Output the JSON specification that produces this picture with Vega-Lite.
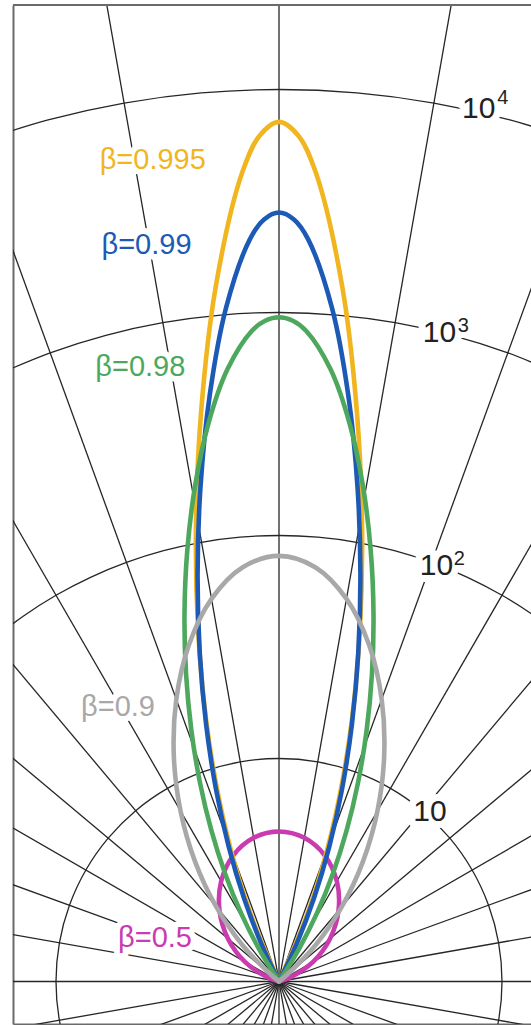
{
  "$schema": "https://vega.github.io/schema/vega-lite/v6.json",
  "width": 518,
  "height": 1019,
  "autosize": {"type": "none"},
  "padding": {"left": 13, "top": 5, "right": 0, "bottom": 1},
  "background": "white",
  "config": {"view": {"stroke": null}},
  "datasets": {
    "spokes": [
      {"a": 0, "sx": 0, "sy": 0, "ex": 0, "ey": 6}, {"a": 10, "sx": 0, "sy": 0, "ex": 1.0419, "ey": 5.9089}, {"a": 20, "sx": 0, "sy": 0, "ex": 2.0521, "ey": 5.6381},
      {"a": 30, "sx": 0, "sy": 0, "ex": 3, "ey": 5.1962}, {"a": 40, "sx": 0, "sy": 0, "ex": 3.8567, "ey": 4.5963}, {"a": 50, "sx": 0, "sy": 0, "ex": 4.5963, "ey": 3.8567},
      {"a": 60, "sx": 0, "sy": 0, "ex": 5.1962, "ey": 3}, {"a": 70, "sx": 0, "sy": 0, "ex": 5.6381, "ey": 2.0521}, {"a": 80, "sx": 0, "sy": 0, "ex": 5.9089, "ey": 1.0419},
      {"a": 90, "sx": 0, "sy": 0, "ex": 6, "ey": 0}, {"a": 100, "sx": 0, "sy": 0, "ex": 5.9089, "ey": -1.0419}, {"a": 110, "sx": 0, "sy": 0, "ex": 5.6381, "ey": -2.0521},
      {"a": 120, "sx": 0, "sy": 0, "ex": 5.1962, "ey": -3}, {"a": 130, "sx": 0, "sy": 0, "ex": 4.5963, "ey": -3.8567}, {"a": 140, "sx": 0, "sy": 0, "ex": 3.8567, "ey": -4.5963},
      {"a": 150, "sx": 0, "sy": 0, "ex": 3, "ey": -5.1962}, {"a": 160, "sx": 0, "sy": 0, "ex": 2.0521, "ey": -5.6381}, {"a": 170, "sx": 0, "sy": 0, "ex": 1.0419, "ey": -5.9089},
      {"a": 180, "sx": 0, "sy": 0, "ex": 0, "ey": -6}, {"a": 190, "sx": 0, "sy": 0, "ex": -1.0419, "ey": -5.9089}, {"a": 200, "sx": 0, "sy": 0, "ex": -2.0521, "ey": -5.6381},
      {"a": 210, "sx": 0, "sy": 0, "ex": -3, "ey": -5.1962}, {"a": 220, "sx": 0, "sy": 0, "ex": -3.8567, "ey": -4.5963}, {"a": 230, "sx": 0, "sy": 0, "ex": -4.5963, "ey": -3.8567},
      {"a": 240, "sx": 0, "sy": 0, "ex": -5.1962, "ey": -3}, {"a": 250, "sx": 0, "sy": 0, "ex": -5.6381, "ey": -2.0521}, {"a": 260, "sx": 0, "sy": 0, "ex": -5.9089, "ey": -1.0419},
      {"a": 270, "sx": 0, "sy": 0, "ex": -6, "ey": 0}, {"a": 280, "sx": 0, "sy": 0, "ex": -5.9089, "ey": 1.0419}, {"a": 290, "sx": 0, "sy": 0, "ex": -5.6381, "ey": 2.0521},
      {"a": 300, "sx": 0, "sy": 0, "ex": -5.1962, "ey": 3}, {"a": 310, "sx": 0, "sy": 0, "ex": -4.5963, "ey": 3.8567}, {"a": 320, "sx": 0, "sy": 0, "ex": -3.8567, "ey": 4.5963},
      {"a": 330, "sx": 0, "sy": 0, "ex": -3, "ey": 5.1962}, {"a": 340, "sx": 0, "sy": 0, "ex": -2.0521, "ey": 5.6381}, {"a": 350, "sx": 0, "sy": 0, "ex": -1.0419, "ey": 5.9089}
    ],
    "frame": [
      {"x1": -1.19283, "x2": 1.13004, "y": 4.37892}
    ],
    "circles": [
      {"c": 1, "i": 0, "x": 0, "y": -1}, {"c": 1, "i": 1, "x": -0.17365, "y": -0.98481}, {"c": 1, "i": 2, "x": -0.34202, "y": -0.93969},
      {"c": 1, "i": 3, "x": -0.5, "y": -0.86603}, {"c": 1, "i": 4, "x": -0.64279, "y": -0.76604}, {"c": 1, "i": 5, "x": -0.76604, "y": -0.64279},
      {"c": 1, "i": 6, "x": -0.86603, "y": -0.5}, {"c": 1, "i": 7, "x": -0.93969, "y": -0.34202}, {"c": 1, "i": 8, "x": -0.98481, "y": -0.17365},
      {"c": 1, "i": 9, "x": -1, "y": 0}, {"c": 1, "i": 10, "x": -0.98481, "y": 0.17365}, {"c": 1, "i": 11, "x": -0.93969, "y": 0.34202},
      {"c": 1, "i": 12, "x": -0.86603, "y": 0.5}, {"c": 1, "i": 13, "x": -0.76604, "y": 0.64279}, {"c": 1, "i": 14, "x": -0.64279, "y": 0.76604},
      {"c": 1, "i": 15, "x": -0.5, "y": 0.86603}, {"c": 1, "i": 16, "x": -0.34202, "y": 0.93969}, {"c": 1, "i": 17, "x": -0.17365, "y": 0.98481},
      {"c": 1, "i": 18, "x": 0, "y": 1}, {"c": 1, "i": 19, "x": 0.17365, "y": 0.98481}, {"c": 1, "i": 20, "x": 0.34202, "y": 0.93969},
      {"c": 1, "i": 21, "x": 0.5, "y": 0.86603}, {"c": 1, "i": 22, "x": 0.64279, "y": 0.76604}, {"c": 1, "i": 23, "x": 0.76604, "y": 0.64279},
      {"c": 1, "i": 24, "x": 0.86603, "y": 0.5}, {"c": 1, "i": 25, "x": 0.93969, "y": 0.34202}, {"c": 1, "i": 26, "x": 0.98481, "y": 0.17365},
      {"c": 1, "i": 27, "x": 1, "y": 0}, {"c": 1, "i": 28, "x": 0.98481, "y": -0.17365}, {"c": 1, "i": 29, "x": 0.93969, "y": -0.34202},
      {"c": 1, "i": 30, "x": 0.86603, "y": -0.5}, {"c": 1, "i": 31, "x": 0.76604, "y": -0.64279}, {"c": 1, "i": 32, "x": 0.64279, "y": -0.76604},
      {"c": 1, "i": 33, "x": 0.5, "y": -0.86603}, {"c": 1, "i": 34, "x": 0.34202, "y": -0.93969}, {"c": 1, "i": 35, "x": 0.17365, "y": -0.98481},
      {"c": 1, "i": 36, "x": 0, "y": -1},
      {"c": 2, "i": 0, "x": -1.28558, "y": 1.53208}, {"c": 2, "i": 1, "x": -1.14715, "y": 1.6383}, {"c": 2, "i": 2, "x": -1, "y": 1.73205},
      {"c": 2, "i": 3, "x": -0.84524, "y": 1.81262}, {"c": 2, "i": 4, "x": -0.68404, "y": 1.87939}, {"c": 2, "i": 5, "x": -0.51764, "y": 1.93185},
      {"c": 2, "i": 6, "x": -0.3473, "y": 1.96962}, {"c": 2, "i": 7, "x": -0.17431, "y": 1.99239}, {"c": 2, "i": 8, "x": 0, "y": 2},
      {"c": 2, "i": 9, "x": 0.17431, "y": 1.99239}, {"c": 2, "i": 10, "x": 0.3473, "y": 1.96962}, {"c": 2, "i": 11, "x": 0.51764, "y": 1.93185},
      {"c": 2, "i": 12, "x": 0.68404, "y": 1.87939}, {"c": 2, "i": 13, "x": 0.84524, "y": 1.81262}, {"c": 2, "i": 14, "x": 1, "y": 1.73205},
      {"c": 2, "i": 15, "x": 1.14715, "y": 1.6383}, {"c": 2, "i": 16, "x": 1.28558, "y": 1.53208},
      {"c": 3, "i": 0, "x": -1.26785, "y": 2.71892}, {"c": 3, "i": 1, "x": -1.02606, "y": 2.81908}, {"c": 3, "i": 2, "x": -0.77646, "y": 2.89778},
      {"c": 3, "i": 3, "x": -0.52094, "y": 2.95442}, {"c": 3, "i": 4, "x": -0.26147, "y": 2.98858}, {"c": 3, "i": 5, "x": 0, "y": 3},
      {"c": 3, "i": 6, "x": 0.26147, "y": 2.98858}, {"c": 3, "i": 7, "x": 0.52094, "y": 2.95442}, {"c": 3, "i": 8, "x": 0.77646, "y": 2.89778},
      {"c": 3, "i": 9, "x": 1.02606, "y": 2.81908}, {"c": 3, "i": 10, "x": 1.26785, "y": 2.71892},
      {"c": 4, "i": 0, "x": -1.36808, "y": 3.75877}, {"c": 4, "i": 1, "x": -1.03528, "y": 3.8637}, {"c": 4, "i": 2, "x": -0.69459, "y": 3.93923},
      {"c": 4, "i": 3, "x": -0.34862, "y": 3.98478}, {"c": 4, "i": 4, "x": 0, "y": 4}, {"c": 4, "i": 5, "x": 0.34862, "y": 3.98478},
      {"c": 4, "i": 6, "x": 0.69459, "y": 3.93923}, {"c": 4, "i": 7, "x": 1.03528, "y": 3.8637}, {"c": 4, "i": 8, "x": 1.36808, "y": 3.75877}
    ],
    "curves": [
      {"b": "0.5", "i": 0, "x": 0, "y": 0}, {"b": "0.5", "i": 1, "x": -0.0503, "y": 0.0183}, {"b": "0.5", "i": 2, "x": -0.1526, "y": 0.0881},
      {"b": "0.5", "i": 3, "x": -0.2288, "y": 0.192}, {"b": "0.5", "i": 4, "x": -0.2669, "y": 0.3181}, {"b": "0.5", "i": 5, "x": -0.2594, "y": 0.4493},
      {"b": "0.5", "i": 6, "x": -0.2056, "y": 0.5648}, {"b": "0.5", "i": 7, "x": -0.1136, "y": 0.6444}, {"b": "0.5", "i": 8, "x": 0, "y": 0.6727},
      {"b": "0.5", "i": 9, "x": 0.1136, "y": 0.6444}, {"b": "0.5", "i": 10, "x": 0.2056, "y": 0.5648}, {"b": "0.5", "i": 11, "x": 0.2594, "y": 0.4493},
      {"b": "0.5", "i": 12, "x": 0.2669, "y": 0.3181}, {"b": "0.5", "i": 13, "x": 0.2288, "y": 0.192}, {"b": "0.5", "i": 14, "x": 0.1526, "y": 0.0881},
      {"b": "0.5", "i": 15, "x": 0.0503, "y": 0.0183}, {"b": "0.5", "i": 16, "x": 0, "y": 0},

      {"b": "0.995", "i": 0, "x": 0, "y": 0}, {"b": "0.995", "i": 1, "x": -0.109, "y": 0.253}, {"b": "0.995", "i": 2, "x": -0.1967, "y": 0.5195},
      {"b": "0.995", "i": 3, "x": -0.2702, "y": 0.8239}, {"b": "0.995", "i": 4, "x": -0.3268, "y": 1.1725}, {"b": "0.995", "i": 5, "x": -0.3625, "y": 1.5724},
      {"b": "0.995", "i": 6, "x": -0.3725, "y": 2.0315}, {"b": "0.995", "i": 7, "x": -0.3494, "y": 2.5525}, {"b": "0.995", "i": 8, "x": -0.2836, "y": 3.1164},
      {"b": "0.995", "i": 9, "x": -0.1647, "y": 3.6284}, {"b": "0.995", "i": 10, "x": -0.0861, "y": 3.7942}, {"b": "0.995", "i": 11, "x": 0, "y": 3.8547},
      {"b": "0.995", "i": 12, "x": 0.0861, "y": 3.7942}, {"b": "0.995", "i": 13, "x": 0.1647, "y": 3.6284}, {"b": "0.995", "i": 14, "x": 0.2836, "y": 3.1164},
      {"b": "0.995", "i": 15, "x": 0.3494, "y": 2.5525}, {"b": "0.995", "i": 16, "x": 0.3725, "y": 2.0315}, {"b": "0.995", "i": 17, "x": 0.3625, "y": 1.5724},
      {"b": "0.995", "i": 18, "x": 0.3268, "y": 1.1725}, {"b": "0.995", "i": 19, "x": 0.2702, "y": 0.8239}, {"b": "0.995", "i": 20, "x": 0.1967, "y": 0.5195},
      {"b": "0.995", "i": 21, "x": 0.109, "y": 0.253}, {"b": "0.995", "i": 22, "x": 0, "y": 0},

      {"b": "0.99", "i": 0, "x": 0, "y": 0}, {"b": "0.99", "i": 1, "x": -0.0792, "y": 0.1691}, {"b": "0.99", "i": 2, "x": -0.1571, "y": 0.3742},
      {"b": "0.99", "i": 3, "x": -0.2255, "y": 0.6047}, {"b": "0.99", "i": 4, "x": -0.2827, "y": 0.863}, {"b": "0.99", "i": 5, "x": -0.3269, "y": 1.1521},
      {"b": "0.99", "i": 6, "x": -0.3554, "y": 1.474}, {"b": "0.99", "i": 7, "x": -0.3651, "y": 1.8301}, {"b": "0.99", "i": 8, "x": -0.352, "y": 2.2182},
      {"b": "0.99", "i": 9, "x": -0.3111, "y": 2.6259}, {"b": "0.99", "i": 10, "x": -0.2378, "y": 3.0198}, {"b": "0.99", "i": 11, "x": -0.1308, "y": 3.328},
      {"b": "0.99", "i": 12, "x": -0.0671, "y": 3.4171}, {"b": "0.99", "i": 13, "x": 0, "y": 3.4483}, {"b": "0.99", "i": 14, "x": 0.0671, "y": 3.4171},
      {"b": "0.99", "i": 15, "x": 0.1308, "y": 3.328}, {"b": "0.99", "i": 16, "x": 0.2378, "y": 3.0198}, {"b": "0.99", "i": 17, "x": 0.3111, "y": 2.6259},
      {"b": "0.99", "i": 18, "x": 0.352, "y": 2.2182}, {"b": "0.99", "i": 19, "x": 0.3651, "y": 1.8301}, {"b": "0.99", "i": 20, "x": 0.3554, "y": 1.474},
      {"b": "0.99", "i": 21, "x": 0.3269, "y": 1.1521}, {"b": "0.99", "i": 22, "x": 0.2827, "y": 0.863}, {"b": "0.99", "i": 23, "x": 0.2255, "y": 0.6047},
      {"b": "0.99", "i": 24, "x": 0.1571, "y": 0.3742}, {"b": "0.99", "i": 25, "x": 0.0792, "y": 0.1691}, {"b": "0.99", "i": 26, "x": 0, "y": 0},

      {"b": "0.98", "i": 0, "x": 0, "y": 0}, {"b": "0.98", "i": 1, "x": -0.0918, "y": 0.1501}, {"b": "0.98", "i": 2, "x": -0.1706, "y": 0.3078},
      {"b": "0.98", "i": 3, "x": -0.2415, "y": 0.4832}, {"b": "0.98", "i": 4, "x": -0.3033, "y": 0.6774}, {"b": "0.98", "i": 5, "x": -0.3542, "y": 0.8908},
      {"b": "0.98", "i": 6, "x": -0.3927, "y": 1.124}, {"b": "0.98", "i": 7, "x": -0.4167, "y": 1.3768}, {"b": "0.98", "i": 8, "x": -0.4238, "y": 1.6477},
      {"b": "0.98", "i": 9, "x": -0.4113, "y": 1.9325}, {"b": "0.98", "i": 10, "x": -0.3763, "y": 2.223}, {"b": "0.98", "i": 11, "x": -0.3163, "y": 2.5029},
      {"b": "0.98", "i": 12, "x": -0.2307, "y": 2.7461}, {"b": "0.98", "i": 13, "x": -0.1223, "y": 2.9168}, {"b": "0.98", "i": 14, "x": -0.0621, "y": 2.9629},
      {"b": "0.98", "i": 15, "x": 0, "y": 2.9786}, {"b": "0.98", "i": 16, "x": 0.0621, "y": 2.9629}, {"b": "0.98", "i": 17, "x": 0.1223, "y": 2.9168},
      {"b": "0.98", "i": 18, "x": 0.2307, "y": 2.7461}, {"b": "0.98", "i": 19, "x": 0.3163, "y": 2.5029}, {"b": "0.98", "i": 20, "x": 0.3763, "y": 2.223},
      {"b": "0.98", "i": 21, "x": 0.4113, "y": 1.9325}, {"b": "0.98", "i": 22, "x": 0.4238, "y": 1.6477}, {"b": "0.98", "i": 23, "x": 0.4167, "y": 1.3768},
      {"b": "0.98", "i": 24, "x": 0.3927, "y": 1.124}, {"b": "0.98", "i": 25, "x": 0.3542, "y": 0.8908}, {"b": "0.98", "i": 26, "x": 0.3033, "y": 0.6774},
      {"b": "0.98", "i": 27, "x": 0.2415, "y": 0.4832}, {"b": "0.98", "i": 28, "x": 0.1706, "y": 0.3078}, {"b": "0.98", "i": 29, "x": 0.0918, "y": 0.1501},
      {"b": "0.98", "i": 30, "x": 0, "y": 0},

      {"b": "0.9", "i": 0, "x": 0, "y": 0}, {"b": "0.9", "i": 1, "x": -0.0333, "y": 0.028}, {"b": "0.9", "i": 2, "x": -0.1662, "y": 0.1662},
      {"b": "0.9", "i": 3, "x": -0.2825, "y": 0.3367}, {"b": "0.9", "i": 4, "x": -0.3763, "y": 0.5375}, {"b": "0.9", "i": 5, "x": -0.4415, "y": 0.7647},
      {"b": "0.9", "i": 6, "x": -0.4716, "y": 1.0113}, {"b": "0.9", "i": 7, "x": -0.4605, "y": 1.2652}, {"b": "0.9", "i": 8, "x": -0.4042, "y": 1.5086},
      {"b": "0.9", "i": 9, "x": -0.3026, "y": 1.7159}, {"b": "0.9", "i": 10, "x": -0.1625, "y": 1.8577}, {"b": "0.9", "i": 11, "x": 0, "y": 1.9086},
      {"b": "0.9", "i": 12, "x": 0.1625, "y": 1.8577}, {"b": "0.9", "i": 13, "x": 0.3026, "y": 1.7159}, {"b": "0.9", "i": 14, "x": 0.4042, "y": 1.5086},
      {"b": "0.9", "i": 15, "x": 0.4605, "y": 1.2652}, {"b": "0.9", "i": 16, "x": 0.4716, "y": 1.0113}, {"b": "0.9", "i": 17, "x": 0.4415, "y": 0.7647},
      {"b": "0.9", "i": 18, "x": 0.3763, "y": 0.5375}, {"b": "0.9", "i": 19, "x": 0.2825, "y": 0.3367}, {"b": "0.9", "i": 20, "x": 0.1662, "y": 0.1662},
      {"b": "0.9", "i": 21, "x": 0.0333, "y": 0.028}, {"b": "0.9", "i": 22, "x": 0, "y": 0}
    ],
    "betaLabels": [
      {"t": "β=0.995", "b": "0.995", "x": -0.566, "y": 3.642},
      {"t": "β=0.99", "b": "0.99", "x": -0.594, "y": 3.262},
      {"t": "β=0.98", "b": "0.98", "x": -0.622, "y": 2.715},
      {"t": "β=0.9", "b": "0.9", "x": -0.722, "y": 1.191},
      {"t": "β=0.5", "b": "0.5", "x": -0.556, "y": 0.156}
    ],
    "tickLabels": [
      {"t": "10", "x": 0.896, "y": 3.871},
      {"t": "10", "x": 0.72, "y": 2.866},
      {"t": "10", "x": 0.706, "y": 1.823},
      {"t": "10", "x": 0.677, "y": 0.721}
    ],
    "tickExps": [
      {"t": "4", "x": 1.004, "y": 3.935},
      {"t": "3", "x": 0.827, "y": 2.914},
      {"t": "2", "x": 0.809, "y": 1.868}
    ]
  },
  "layer": [
    {
      "data": {"name": "spokes"},
      "mark": {"type": "rule", "clip": true, "color": "#262626", "strokeWidth": 1.3},
      "encoding": {
        "x": {"field": "sx", "type": "quantitative", "scale": {"domain": [-1.19283, 1.13004], "nice": false, "zero": false},
              "axis": {"orient": "bottom", "domain": true, "domainColor": "#6b6b6b", "domainWidth": 2, "ticks": false, "labels": false, "grid": false, "title": null}},
        "y": {"field": "sy", "type": "quantitative", "scale": {"domain": [-0.19058, 4.37892], "nice": false, "zero": false},
              "axis": {"orient": "left", "domain": true, "domainColor": "#6b6b6b", "domainWidth": 2, "ticks": false, "labels": false, "grid": false, "title": null}},
        "x2": {"field": "ex"},
        "y2": {"field": "ey"}
      }
    },
    {
      "data": {"name": "frame"},
      "mark": {"type": "rule", "clip": false, "color": "#6b6b6b", "strokeWidth": 2},
      "encoding": {
        "x": {"field": "x1", "type": "quantitative"},
        "x2": {"field": "x2"},
        "y": {"field": "y", "type": "quantitative"}
      }
    },
    {
      "data": {"name": "circles"},
      "mark": {"type": "line", "clip": true, "color": "#262626", "strokeWidth": 1.3, "interpolate": "catmull-rom"},
      "encoding": {
        "x": {"field": "x", "type": "quantitative"},
        "y": {"field": "y", "type": "quantitative"},
        "detail": {"field": "c", "type": "nominal"},
        "order": {"field": "i", "type": "quantitative"}
      }
    },
    {
      "data": {"name": "betaLabels"},
      "mark": {"type": "text", "font": "Liberation Sans", "fontSize": 29, "align": "center", "baseline": "alphabetic", "fill": "white", "stroke": "white", "strokeWidth": 12, "strokeJoin": "round"},
      "encoding": {
        "x": {"field": "x", "type": "quantitative"},
        "y": {"field": "y", "type": "quantitative"},
        "text": {"field": "t"}
      }
    },
    {
      "data": {"name": "tickLabels"},
      "mark": {"type": "text", "font": "Liberation Sans", "fontSize": 30, "align": "center", "baseline": "alphabetic", "fill": "white", "stroke": "white", "strokeWidth": 14, "strokeJoin": "round"},
      "encoding": {
        "x": {"field": "x", "type": "quantitative"},
        "y": {"field": "y", "type": "quantitative"},
        "text": {"field": "t"}
      }
    },
    {
      "data": {"name": "tickExps"},
      "mark": {"type": "text", "font": "Liberation Sans", "fontSize": 20, "align": "center", "baseline": "alphabetic", "fill": "white", "stroke": "white", "strokeWidth": 12, "strokeJoin": "round"},
      "encoding": {
        "x": {"field": "x", "type": "quantitative"},
        "y": {"field": "y", "type": "quantitative"},
        "text": {"field": "t"}
      }
    },
    {
      "data": {"name": "curves"},
      "mark": {"type": "line", "clip": true, "strokeWidth": 4.6, "interpolate": "catmull-rom", "strokeCap": "round", "strokeJoin": "round"},
      "encoding": {
        "x": {"field": "x", "type": "quantitative"},
        "y": {"field": "y", "type": "quantitative"},
        "color": {"field": "b", "type": "nominal", "legend": null,
                  "scale": {"domain": ["0.5", "0.9", "0.98", "0.99", "0.995"], "range": ["#C93BAE", "#A8A8A8", "#4DA85E", "#1D5AB6", "#F1B51F"]}},
        "order": {"field": "i", "type": "quantitative"}
      }
    },
    {
      "data": {"name": "betaLabels"},
      "mark": {"type": "text", "font": "Liberation Sans", "fontSize": 29, "align": "center", "baseline": "alphabetic"},
      "encoding": {
        "x": {"field": "x", "type": "quantitative"},
        "y": {"field": "y", "type": "quantitative"},
        "text": {"field": "t"},
        "color": {"field": "b", "type": "nominal", "legend": null}
      }
    },
    {
      "data": {"name": "tickLabels"},
      "mark": {"type": "text", "font": "Liberation Sans", "fontSize": 30, "align": "center", "baseline": "alphabetic", "color": "#222222"},
      "encoding": {
        "x": {"field": "x", "type": "quantitative"},
        "y": {"field": "y", "type": "quantitative"},
        "text": {"field": "t"}
      }
    },
    {
      "data": {"name": "tickExps"},
      "mark": {"type": "text", "font": "Liberation Sans", "fontSize": 20, "align": "center", "baseline": "alphabetic", "color": "#222222"},
      "encoding": {
        "x": {"field": "x", "type": "quantitative"},
        "y": {"field": "y", "type": "quantitative"},
        "text": {"field": "t"}
      }
    }
  ]
}
